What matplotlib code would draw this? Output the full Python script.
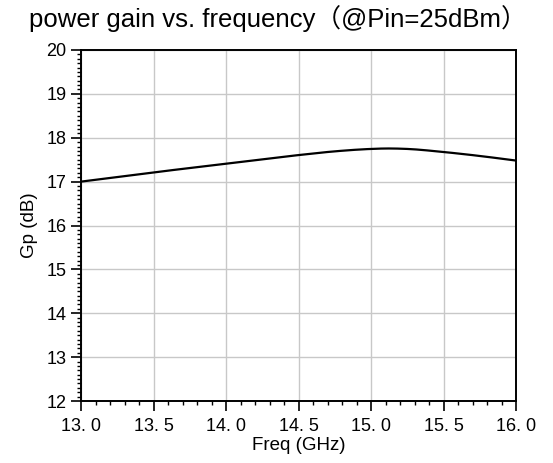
import numpy as np
import matplotlib
matplotlib.use('Agg')
import matplotlib.pyplot as plt
from matplotlib.ticker import MultipleLocator

# datos
freq = [13.0, 13.25, 13.5, 13.75, 14.0, 14.25, 14.5, 14.75, 15.0, 15.1, 15.25, 15.5, 15.75, 16.0]
gp = [17.0, 17.105, 17.21, 17.31, 17.41, 17.51, 17.605, 17.69, 17.745, 17.755, 17.745, 17.675, 17.585, 17.48]
xticks = [13.0, 13.5, 14.0, 14.5, 15.0, 15.5, 16.0]
xticklabels = ['13. 0', '13. 5', '14. 0', '14. 5', '15. 0', '15. 5', '16. 0']
yticks = [12, 13, 14, 15, 16, 17, 18, 19, 20]

plt.rcParams['font.family'] = ['Liberation Sans', 'Noto Sans CJK SC', 'DejaVu Sans']


def suavizar(x, y, n=20):
    # interpolacion Hermite cubica que pasa por todos los puntos
    x = np.asarray(x, float)
    y = np.asarray(y, float)
    m = np.gradient(y, x)
    xs, ys = [], []
    for i in range(len(x) - 1):
        h = x[i+1] - x[i]
        t = np.linspace(0, 1, n, endpoint=False)
        h00 = 2*t**3 - 3*t**2 + 1
        h10 = t**3 - 2*t**2 + t
        h01 = -2*t**3 + 3*t**2
        h11 = t**3 - t**2
        xs.append(x[i] + t*h)
        ys.append(h00*y[i] + h10*h*m[i] + h01*y[i+1] + h11*h*m[i+1])
    xs.append([x[-1]])
    ys.append([y[-1]])
    return np.concatenate(xs), np.concatenate(ys)


fig = plt.figure(figsize=(5.53, 4.63), dpi=100)
ax = fig.add_axes([81/553, 1-401/463, (516-81)/553, (401-50)/463])

xs, ys = suavizar(freq, gp)
ax.plot(xs, ys, color='black', lw=1.6)

ax.set_xlim(13.0, 16.0)
ax.set_ylim(12, 20)
ax.set_xticks(xticks)
ax.set_xticklabels(xticklabels)
ax.set_yticks(yticks)
ax.xaxis.set_minor_locator(MultipleLocator(0.1))
ax.yaxis.set_minor_locator(MultipleLocator(0.1))
ax.tick_params(which='major', direction='out', length=7, width=1.2, labelsize=13, colors='black')
ax.tick_params(axis='x', which='major', pad=5)
ax.tick_params(which='minor', direction='out', length=3, width=1.0)
ax.grid(True, which='major', color='#c8c8c8', lw=1.0)
for s in ax.spines.values():
    s.set_linewidth(1.4)

ax.set_xlabel('Freq (GHz)', fontsize=13.5, labelpad=2)
ax.set_ylabel('Gp (dB)', fontsize=13.5, labelpad=6)
fig.text(0.503, 0.99, 'power gain vs. frequency（@Pin=25dBm）', ha='center', va='top', fontsize=18.5)

fig.savefig('out.png', dpi=100)
